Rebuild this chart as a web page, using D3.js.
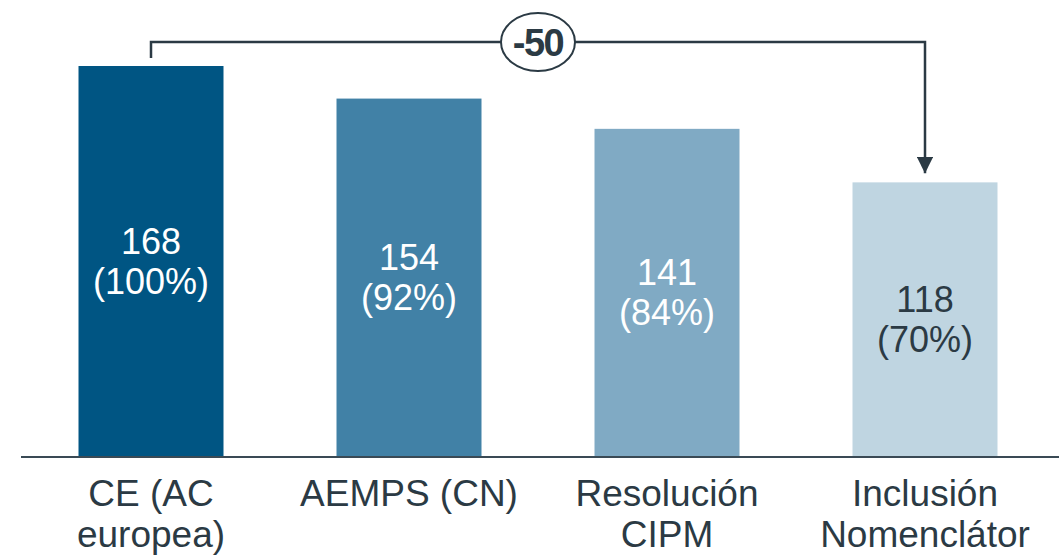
<!DOCTYPE html>
<html>
<head>
<meta charset="utf-8">
<script src="https://cdn.jsdelivr.net/npm/d3@7"></script>
<style>
  html, body { margin: 0; padding: 0; background: #fff; }
  svg { display: block; font-family: "Liberation Sans", Arial, sans-serif; }
</style>
</head>
<body>
<div id="chart"></div>
<script>
// data
const categories = ["CE (AC europea)", "AEMPS (CN)", "Resolución CIPM", "Inclusión Nomenclátor"];
const labelLines = [["CE (AC", "europea)"], ["AEMPS (CN)"], ["Resolución", "CIPM"], ["Inclusión", "Nomenclátor"]];
const values = [168, 154, 141, 118];
const barColors = ["#005583", "#4181a6", "#80aac4", "#bfd5e1"];
const valueTextColors = ["#fff", "#fff", "#fff", "#2b3a44"];

const width = 1059, height = 556;
const ink = "#2b3a44";

const svg = d3.select("#chart").append("svg")
  .attr("width", width)
  .attr("height", height);

// scales
const x = d3.scaleBand()
  .domain(categories)
  .range([22, 1054])
  .paddingInner(0.438)
  .paddingOuter(0.219);

const y = d3.scaleLinear()
  .domain([0, d3.max(values)])
  .range([457, 66]);

// bars
svg.selectAll("rect.bar")
  .data(values)
  .join("rect")
  .attr("class", "bar")
  .attr("x", (d, i) => x(categories[i]))
  .attr("y", d => y(d))
  .attr("width", x.bandwidth())
  .attr("height", d => y(0) - y(d))
  .attr("fill", (d, i) => barColors[i]);

// value labels inside bars
const base = values[0];
const valLabels = svg.selectAll("text.val")
  .data(values)
  .join("text")
  .attr("class", "val")
  .attr("text-anchor", "middle")
  .attr("fill", (d, i) => valueTextColors[i])
  .attr("font-size", 36)
  .attr("transform", (d, i) => `translate(${x(categories[i]) + x.bandwidth() / 2}, ${(y(d) + y(0)) / 2})`);
valLabels.append("tspan").attr("x", 0).attr("y", -8).text(d => d);
valLabels.append("tspan").attr("x", 0).attr("y", 32).text(d => `(${Math.round(d / base * 100)}%)`);

// baseline
svg.append("line")
  .attr("x1", 21).attr("x2", width)
  .attr("y1", y(0)).attr("y2", y(0))
  .attr("stroke", "#3a4a55")
  .attr("stroke-width", 2);

// category labels
const catLabels = svg.selectAll("text.cat")
  .data(labelLines)
  .join("text")
  .attr("class", "cat")
  .attr("text-anchor", "middle")
  .attr("fill", ink)
  .attr("font-size", 37)
  .attr("transform", (d, i) => `translate(${x(categories[i]) + x.bandwidth() / 2}, 0)`);
catLabels.selectAll("tspan")
  .data(d => d)
  .join("tspan")
  .attr("x", 0)
  .attr("y", (d, i) => 506 + i * 41)
  .text(d => d);

// difference bracket
const first = 0, last = values.length - 1;
const xa = x(categories[first]) + x.bandwidth() / 2;
const xb = x(categories[last]) + x.bandwidth() / 2;
const topY = 42;

svg.append("defs").append("marker")
  .attr("id", "arrow")
  .attr("viewBox", "0 0 10 10")
  .attr("refX", 10).attr("refY", 5)
  .attr("markerWidth", 6.5).attr("markerHeight", 6.5)
  .attr("markerUnits", "strokeWidth")
  .attr("orient", "auto")
  .append("path")
  .attr("d", "M0,0 L10,5 L0,10 Z")
  .attr("fill", ink);

svg.append("path")
  .attr("d", `M${xa},${y(values[first]) - 8} V${topY} H${xb} V${y(values[last]) - 9}`)
  .attr("fill", "none")
  .attr("stroke", ink)
  .attr("stroke-width", 2.5)
  .attr("marker-end", "url(#arrow)");

const mid = (xa + xb) / 2;
svg.append("ellipse")
  .attr("cx", mid).attr("cy", topY)
  .attr("rx", 37).attr("ry", 29)
  .attr("fill", "#fff")
  .attr("stroke", ink)
  .attr("stroke-width", 2);

svg.append("text")
  .attr("x", mid).attr("y", topY + 14)
  .attr("text-anchor", "middle")
  .attr("font-size", 38)
  .attr("font-weight", "bold")
  .attr("letter-spacing", -1.5)
  .attr("fill", ink)
  .text(values[last] - values[first]);
</script>
</body>
</html>
